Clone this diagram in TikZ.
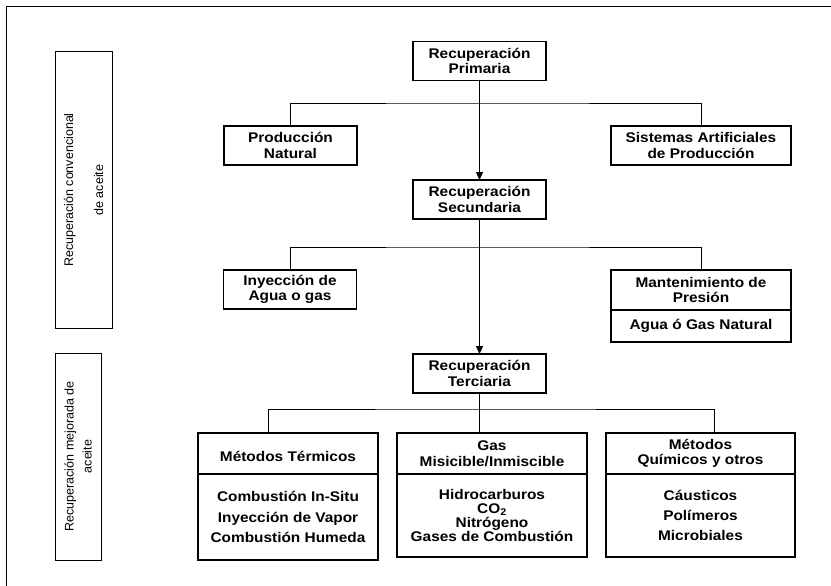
\documentclass[tikz,border=0pt]{standalone}
\usepackage{fontspec}
\setmainfont{Liberation Sans}
\newfontfamily\boxfont[FakeStretch=1.1]{Liberation Sans}
\usetikzlibrary{positioning, arrows.meta}

\begin{document}
\begin{tikzpicture}[x=1pt, y=-1pt,
    every node/.style={draw, line width=1.2pt, outer sep=0pt, inner sep=2pt, align=center,
      font=\boxfont\bfseries\fontsize{14}{15.5}\selectfont},
    etapa/.style={minimum width=133pt, minimum height=39pt},
    ancha/.style={minimum width=180pt, minimum height=39pt},
    cabeza/.style={minimum height=41pt},
    cuerpo/.style={minimum height=83pt},
    lateral/.style={rotate=90, line width=1pt, font=\rmfamily\fontsize{12.5}{18}\selectfont},
    flujo/.style={line width=0.9pt, -{Triangle[length=8pt, width=7pt]}},
    rama/.style={line width=0.9pt}]
    \useasboundingbox (0,0) rectangle (831,586);
    % marco
    \draw[line width=0.8pt] (6,586) |- (831,6);

    % etiquetas laterales
    \node[lateral, minimum width=276pt, minimum height=57pt] (conv) at (83.5,190) {Recuperación convencional\\[12pt]de aceite};
    \node[lateral, minimum width=207pt, minimum height=46pt] (mej) at (78,456.5) {Recuperación mejorada de\\aceite};

    % primaria
    \node[etapa] (prim) at (479.5,61) {Recuperación\\Primaria};
    \node[etapa] (nat) at (290.5,145.5) {Producción\\Natural};
    \node[ancha] (sist) at (701,145.5) {Sistemas Artificiales\\de Producción};

    % secundaria
    \node[etapa] (sec) at (479.5,199.5) {Recuperación\\Secundaria};
    \node[etapa] (iny) at (290,289.5) {Inyección de\\Agua o gas};
    \node[ancha, minimum height=40pt] (mant) at (701,290) {Mantenimiento de\\Presión};
    \node[ancha, minimum height=32pt, below=0pt of mant] (mantb) {Agua ó Gas Natural};

    % terciaria
    \node[etapa] (ter) at (479.5,373.5) {Recuperación\\Terciaria};
    \node[cabeza, minimum width=180pt] (term) at (288,453.5) {\mbox{}\\Métodos Térmicos};
    \node[cuerpo, minimum width=180pt, minimum height=86pt, below=0pt of term] (termb) {Combustión In-Situ\\[5pt]Inyección de Vapor\\[5pt]Combustión Humeda};
    \node[cabeza, minimum width=190pt] (gas) at (492,453.5) {Gas\\Misicible/Inmiscible};
    \node[cuerpo, minimum width=190pt, below=0pt of gas] (gasb) {Hidrocarburos\\[-1.5pt]CO\textsubscript{2}\\[-1.5pt]Nitrógeno\\[-1.5pt]Gases de Combustión};
    \node[cabeza, minimum width=189pt] (quim) at (700.5,453.5) {Métodos\\Químicos y otros};
    \node[cuerpo, minimum width=189pt, below=0pt of quim] (quimb) {Cáusticos\\[4.5pt]Polímeros\\[4.5pt]Microbiales};

    % conectores
    \draw[flujo] (prim) -- (sec);
    \coordinate (r1) at (479.5,103);
    \draw[rama] (nat.north) |- (r1) -| (sist.north);
    \draw[flujo] (sec) -- (ter);
    \coordinate (r2) at (479.5,247);
    \draw[rama] (iny.north) |- (r2) -| (mant.north);
    \coordinate (r3) at (479.5,409);
    \draw[rama] ([xshift=-20pt]term.north) |- (r3) -| ([xshift=14pt]quim.north);
    \draw[rama] (ter) -- (ter |- gas.north);
\end{tikzpicture}
\end{document}
